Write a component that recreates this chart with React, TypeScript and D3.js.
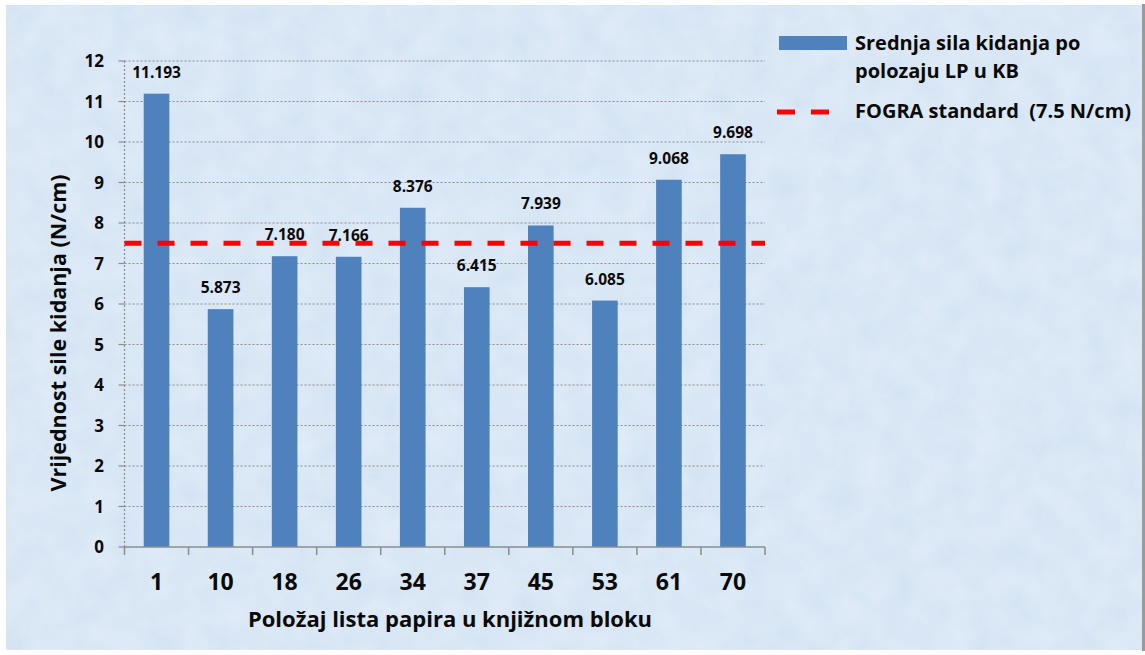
import React, {useEffect, useRef} from "react";
import * as d3 from "d3";

const positions = ["1", "10", "18", "26", "34", "37", "45", "53", "61", "70"];
const forceValues = [11.193, 5.873, 7.180, 7.166, 8.376, 6.415, 7.939, 6.085, 9.068, 9.698];
const yTicks = [0, 1, 2, 3, 4, 5, 6, 7, 8, 9, 10, 11, 12];
const fograStandard = 7.5;
const legendLabels = ["Srednja sila kidanja po", "polozaju LP u KB", "FOGRA standard  (7.5 N/cm)"];
const xTitle = "Položaj lista papira u knjižnom bloku";
const yTitle = "Vrijednost sile kidanja (N/cm)";

const W = 1145, H = 655;
const FONT = "'Open Sans', Lato, sans-serif";

function drawChart(node: SVGSVGElement){
    const svg = d3.select(node);
    svg.selectAll("*").remove();

    // background with a faint paper texture
    const defs = svg.append("defs");
    const f = defs.append("filter").attr("id", "paper").attr("x", 0).attr("y", 0).attr("width", "100%").attr("height", "100%");
    f.append("feTurbulence").attr("type", "fractalNoise").attr("baseFrequency", 0.035).attr("numOctaves", 3).attr("seed", 4);
    f.append("feColorMatrix").attr("values", "0 0 0 0 1  0 0 0 0 1  0 0 0 0 1  0 0 0 0.35 0");
    f.append("feComposite").attr("in2", "SourceGraphic").attr("operator", "in");

    svg.append("rect").attr("width", W).attr("height", H).attr("fill", "#ffffff");
    svg.append("rect").attr("x", 1142).attr("y", 4).attr("width", 3).attr("height", H - 8).attr("fill", "#9a9a9a");
    svg.append("rect").attr("x", 6).attr("y", 5).attr("width", 1136).attr("height", 645).attr("fill", "#d2e2f3");
    svg.append("rect").attr("x", 6).attr("y", 5).attr("width", 1136).attr("height", 645).attr("fill", "#eef5fc").attr("filter", "url(#paper)");

    const margin = {left: 124.5, right: 765, top: 61, bottom: 547};

    let x = d3.scaleBand().domain(positions).range([margin.left, margin.right]).paddingInner(0.6).paddingOuter(0.3),
        y = d3.scaleLinear().domain([0, 12]).range([margin.bottom, margin.top]),
        xb = d3.scaleBand().domain(positions).range([margin.left, margin.right]);

    const g = svg.append("g").style("font-family", FONT).style("font-weight", "bold").style("fill", "#0a0a0a");

    // horizontal dotted grid
    g.append("g").selectAll("line")
        .data(yTicks.filter(d => d > 0))
        .enter().append("line")
            .attr("x1", margin.left).attr("x2", margin.right)
            .attr("y1", d => y(d)).attr("y2", d => y(d))
            .attr("stroke", "#8c8c8c").attr("stroke-width", 1.2)
            .attr("stroke-dasharray", "2,2");

    // y axis (dotted) with ticks
    g.append("line")
        .attr("x1", margin.left).attr("x2", margin.left)
        .attr("y1", margin.top).attr("y2", margin.bottom)
        .attr("stroke", "#8c8c8c").attr("stroke-width", 1.2).attr("stroke-dasharray", "2,2");
    g.append("g").selectAll("line")
        .data(yTicks)
        .enter().append("line")
            .attr("x1", margin.left - 6).attr("x2", margin.left)
            .attr("y1", d => y(d)).attr("y2", d => y(d))
            .attr("stroke", "#8c8c8c").attr("stroke-width", 1.2);
    g.append("g").selectAll("text")
        .data(yTicks)
        .enter().append("text")
            .attr("x", 104).attr("y", d => y(d) + 6)
            .attr("text-anchor", "end")
            .style("font-size", "17px")
            .text(d => d);

    // bars
    g.append("g").selectAll("rect")
        .data(forceValues)
        .enter().append("rect")
            .attr("x", (d, i) => x(positions[i]) as number)
            .attr("width", x.bandwidth())
            .attr("y", d => y(d))
            .attr("height", d => y(0) - y(d))
            .attr("fill", "#4f81bd");

    // bar value labels
    g.append("g").selectAll("text")
        .data(forceValues)
        .enter().append("text")
            .attr("x", (d, i) => (x(positions[i]) as number) + x.bandwidth() / 2)
            .attr("y", d => y(d) - 16)
            .attr("text-anchor", "middle")
            .style("font-size", "15.5px")
            .text(d => d.toFixed(3));

    // x axis
    g.append("line")
        .attr("x1", margin.left).attr("x2", margin.right)
        .attr("y1", margin.bottom).attr("y2", margin.bottom)
        .attr("stroke", "#8c8c8c").attr("stroke-width", 1.5);
    const bounds = positions.map(p => xb(p) as number).concat([margin.right]);
    g.append("g").selectAll("line")
        .data(bounds)
        .enter().append("line")
            .attr("x1", d => d).attr("x2", d => d)
            .attr("y1", margin.bottom).attr("y2", margin.bottom + 8)
            .attr("stroke", "#8c8c8c").attr("stroke-width", 1.5);
    g.append("g").selectAll("text")
        .data(positions)
        .enter().append("text")
            .attr("x", d => (xb(d) as number) + xb.bandwidth() / 2)
            .attr("y", 590)
            .attr("text-anchor", "middle")
            .style("font-size", "23px")
            .text(d => d);

    // FOGRA standard line
    g.append("line")
        .attr("x1", margin.left).attr("x2", margin.right)
        .attr("y1", y(fograStandard)).attr("y2", y(fograStandard))
        .attr("stroke", "#ff0000").attr("stroke-width", 5)
        .attr("stroke-dasharray", "17,16");

    // axis titles
    g.append("text")
        .attr("x", 450).attr("y", 627)
        .attr("text-anchor", "middle")
        .style("font-size", "22px")
        .text(xTitle);
    g.append("text")
        .attr("transform", "translate(66,333) rotate(-90)")
        .attr("text-anchor", "middle")
        .style("font-size", "21.5px")
        .text(yTitle);

    // legend
    const lg = g.append("g");
    lg.append("rect").attr("x", 779).attr("y", 36).attr("width", 68).attr("height", 14).attr("fill", "#4f81bd");
    lg.append("text").attr("x", 855).attr("y", 50).style("font-size", "20px").text(legendLabels[0]);
    lg.append("text").attr("x", 855).attr("y", 78).style("font-size", "20px").text(legendLabels[1]);
    lg.append("line")
        .attr("x1", 777).attr("x2", 829).attr("y1", 112).attr("y2", 112)
        .attr("stroke", "#ff0000").attr("stroke-width", 5)
        .attr("stroke-dasharray", "18,16");
    lg.append("text").attr("x", 855).attr("y", 118).style("font-size", "20px").style("white-space", "pre").text(legendLabels[2]);
}

export default function App(){
    const ref = useRef<SVGSVGElement>(null);
    useEffect(() => { if(ref.current) drawChart(ref.current); }, []);
    return <svg ref={ref} width={W} height={H} style={{position: "absolute", left: 0, top: 0, display: "block"}}></svg>;
}
